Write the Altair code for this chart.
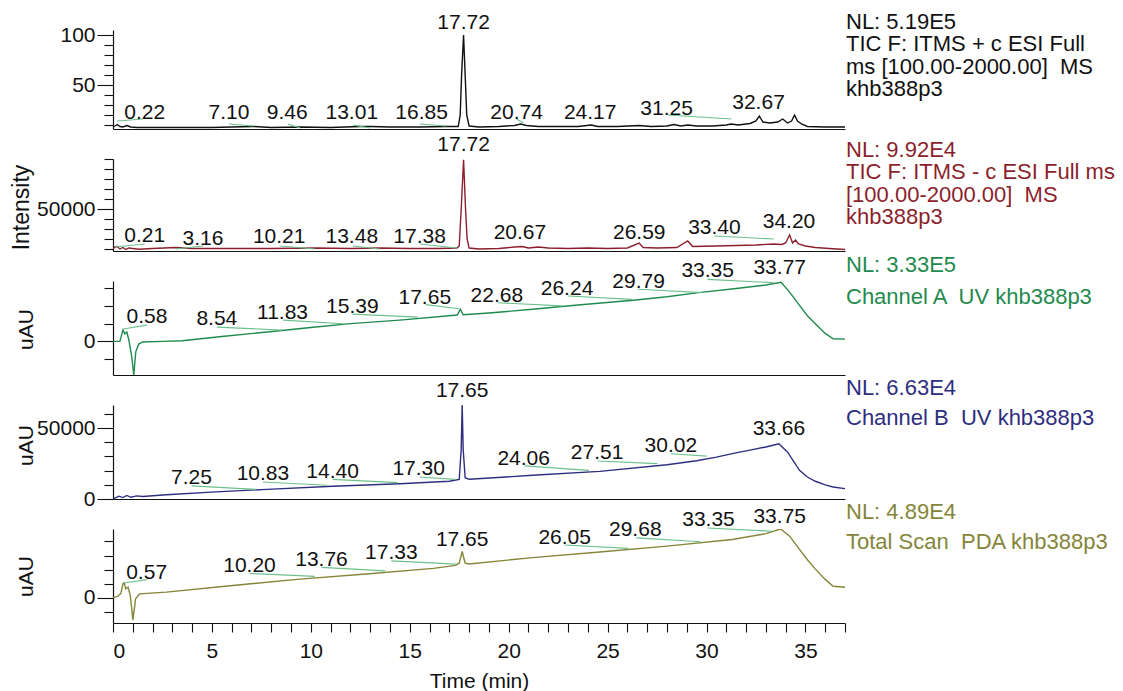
import altair as alt
import pandas as pd

FONT = "Liberation Sans"
T_DOMAIN = [0, 37]
W = 732

# ---------------- Panel 1 : TIC + (relative abundance) ----------------
p1_t = [0.0, 0.1, 0.22, 0.35, 0.5, 0.7, 0.9, 1.2, 2.0, 3.5, 5.0, 6.0, 7.1, 8.0, 9.46, 11.0, 12.5, 13.01, 14.0, 15.5,
        16.85, 17.45, 17.55, 17.62, 17.72, 17.8, 17.88, 18.0, 18.5, 19.5, 20.3, 20.6, 20.9, 21.5, 22.5, 23.5, 24.17, 24.5,
        25.5, 26.6, 27.2, 28.0, 28.35, 28.7, 29.05, 29.5, 30.3, 31.0, 31.25, 31.6, 32.2, 32.5, 32.67, 32.85, 33.2, 33.6,
        33.85, 34.1, 34.3, 34.45, 34.6, 34.8, 35.1, 36.0, 37.0]
p1_v = [8, 9, 10.5, 8.5, 8, 9.5, 8, 7.5, 7.5, 7.5, 7.5, 8, 8.5, 7.5, 8, 7.5, 8.5, 8.5, 8, 8,
        8.5, 8.5, 20, 60, 100, 60, 20, 9, 8, 8.5, 9.5, 11, 9.5, 8.5, 8.5, 8.5, 10, 8.5,
        8.5, 9.5, 8.5, 9, 10.5, 9, 10, 9, 9, 10, 11, 10, 11.5, 14, 19, 13, 12, 13,
        16, 12, 14, 20, 14, 11, 8.5, 8, 8]
p1_lab_text = ["0.22", "7.10", "9.46", "13.01", "16.85", "17.72", "20.74", "24.17", "31.25", "32.67"]
p1_lab_t = [1.6, 5.86, 8.81, 12.07, 15.6, 17.72, 20.4, 24.12, 27.98, 32.63]
p1_lab_v = [16, 16, 16, 16, 16, 106, 16, 16, 20, 26]
p1_ld_t = [1.52, 5.86, 8.84, 12.12, 15.5, 20.4, 28.03]
p1_ld_v = [16, 11, 11, 10, 11, 16, 20]
p1_ld_t2 = [0.2, 7.10, 9.46, 13.01, 16.85, 20.74, 31.25]
p1_ld_v2 = [14, 9, 7, 7, 9, 12, 16]
p1_info = ["NL: 5.19E5", "TIC F: ITMS + c ESI Full", "ms [100.00-2000.00] \u00a0MS", "khb388p3"]

# ---------------- Panel 2 : TIC - ----------------
p2_t = [0.0, 0.1, 0.21, 0.35, 0.5, 0.65, 0.8, 1.0, 1.3, 2.0, 3.16, 4.0, 6.0, 8.0, 10.21, 12.0, 13.48, 15.0, 16.5, 17.38,
        17.5, 17.6, 17.72, 17.82, 17.9, 18.0, 18.5, 19.5, 20.3, 20.67, 21.0, 21.5, 22.0, 23.0, 24.0, 25.0, 26.0, 26.59,
        26.8, 27.5, 28.5, 29.05, 29.3, 30.5, 31.5, 32.5, 33.4, 33.8, 34.0, 34.2, 34.35, 34.5, 34.65, 35.0, 35.5, 36.2, 37.0]
p2_v = [10000, 12000, 12500, 10000, 11500, 9500, 11000, 10500, 9800, 10500, 11500, 10500, 10500, 10500, 11000, 10500,
        11000, 10500, 10500, 11000, 13000, 50000, 99200, 50000, 20000, 11000, 10000, 10500, 12000, 12500, 11000, 12000,
        11000, 10500, 11000, 10500, 11000, 16000, 11500, 11000, 11500, 18000, 12500, 13000, 13500, 14000, 15000, 14500,
        16000, 24000, 16000, 19000, 15000, 13000, 11500, 10500, 9500]
p2_lab_text = ["0.21", "3.16", "10.21", "13.48", "17.38", "17.72", "20.67", "26.59", "33.40", "34.20"]
p2_lab_t = [1.6, 4.55, 8.4, 12.07, 15.5, 17.72, 20.57, 26.6, 30.4, 34.17]
p2_lab_v = [17000, 14000, 16300, 16300, 16300, 108000, 20000, 20000, 25300, 31000]
p2_ld_t = [1.6, 4.55, 8.45, 12.12, 15.5, 30.4]
p2_ld_v = [15000, 13000, 13000, 13000, 15000, 23000]
p2_ld_t2 = [0.1, 3.16, 10.21, 13.48, 17.38, 33.40]
p2_ld_v2 = [12000, 10000, 10000, 10000, 11000, 20000]
p2_info = ["NL: 9.92E4", "TIC F: ITMS - c ESI Full ms", "[100.00-2000.00] \u00a0MS", "khb388p3"]

# ---------------- Panel 3 : Channel A UV ----------------
p3_t = [0.0, 0.35, 0.5, 0.6, 0.7, 0.8, 0.95, 1.05, 1.15, 1.3, 1.5, 2.5, 3.5, 5.5, 7.8, 10.0, 12.0, 14.5, 17.4, 17.56,
        17.7, 19.0, 21.2, 23.5, 26.3, 28.0, 29.6, 31.5, 33.0, 33.77, 34.2, 34.7, 35.1, 35.5, 36.0, 36.4, 37.0]
p3_v = [0, 0, 64000, 43000, 53000, 8000, -88000, -190000, -59000, -15000, -3000, 0, 4000, 28000, 53000, 78000, 100000,
        120000, 149000, 181000, 150000, 160000, 181000, 205000, 232000, 252000, 275000, 298000, 318000, 333000, 278000,
        203000, 145000, 100000, 45000, 15000, 13000]
p3_lab_text = ["0.58", "8.54", "11.83", "15.39", "17.65", "22.68", "26.24", "29.79", "33.35", "33.77"]
p3_lab_t = [1.72, 5.25, 8.57, 12.1, 15.76, 19.4, 22.95, 26.57, 30.06, 33.7]
p3_lab_v = [103700, 94000, 128000, 160000, 212500, 222000, 263000, 303000, 363000, 382000]
p3_ld_t = [1.72, 5.25, 8.6, 12.1, 15.8, 19.45, 23.0, 26.54, 30.05]
p3_ld_v = [92000, 81000, 120000, 154000, 207000, 218000, 256000, 294000, 350000]
p3_ld_t2 = [0.5, 8.54, 11.83, 15.39, 17.5, 22.68, 26.24, 29.79, 33.35]
p3_ld_v2 = [70000, 64000, 98000, 137000, 184000, 200000, 237000, 275000, 331000]
p3_info = ["NL: 3.33E5", "Channel A \u00a0UV khb388p3"]

# ---------------- Panel 4 : Channel B UV ----------------
p4_t = [0.0, 0.3, 0.5, 0.7, 0.9, 1.2, 1.5, 2.7, 5.2, 7.8, 11.1, 14.5, 17.0, 17.5, 17.6, 17.65, 17.7, 17.8, 18.0, 21.2,
        24.6, 28.0, 29.5, 30.5, 31.3, 32.2, 33.0, 33.66, 34.1, 34.7, 35.1, 35.5, 36.0, 36.4, 37.0]
p4_v = [0, 2000, 1000, 2500, 1200, 2200, 1800, 3000, 5000, 6800, 9000, 10800, 12500, 13800, 35000, 66300, 35000, 15000,
        13900, 16700, 19500, 24200, 27000, 29500, 32000, 34500, 36700, 39000, 33000, 20200, 15500, 12500, 10000, 8500, 7300]
p4_lab_text = ["7.25", "10.83", "14.40", "17.30", "17.65", "24.06", "27.51", "30.02", "33.66"]
p4_lab_t = [3.97, 7.58, 11.1, 15.45, 17.65, 20.76, 24.47, 28.2, 33.66]
p4_lab_v = [10800, 13200, 14800, 16700, 71900, 23800, 28400, 33100, 44900]
p4_ld_t = [3.97, 7.58, 11.1, 15.5, 20.8, 24.5, 28.2]
p4_ld_v = [9200, 12000, 13900, 15500, 23300, 26800, 31900]
p4_ld_t2 = [7.25, 10.83, 14.40, 17.30, 24.06, 27.51, 30.02]
p4_ld_v2 = [6800, 9700, 11500, 13900, 20200, 24900, 30300]
p4_info = ["NL: 6.63E4", "Channel B \u00a0UV khb388p3"]

# ---------------- Panel 5 : Total Scan PDA ----------------
p5_t = [0.0, 0.25, 0.4, 0.5, 0.57, 0.64, 0.76, 0.87, 0.95, 1.0, 1.08, 1.14, 1.35, 2.7, 6.06, 9.44, 12.8, 16.2, 17.3, 17.5,
        17.6, 17.65, 17.7, 17.8, 18.0, 21.2, 24.6, 28.0, 31.3, 33.0, 33.75, 34.2, 34.7, 35.1, 35.5, 36.0, 36.4, 37.0]
p5_v = [0, 1000, 3000, 9700, 10500, 6200, 7400, 1800, -8000, -16000, -8000, -800, 2700, 3900, 8600, 13200, 16800, 20800,
        23000, 24500, 30000, 33000, 30000, 24500, 24000, 28500, 32500, 36700, 41400, 45600, 48900, 43800, 34400, 27000,
        20300, 13000, 8100, 7400]
p5_lab_text = ["0.57", "10.20", "13.76", "17.33", "17.65", "26.05", "29.68", "33.35", "33.75"]
p5_lab_t = [1.7, 6.9, 10.54, 14.07, 17.65, 22.83, 26.4, 30.1, 33.7]
p5_lab_v = [13200, 18000, 22200, 27800, 36700, 37900, 43800, 50800, 53200]
p5_ld_t = [1.7, 6.9, 10.54, 14.07, 22.83, 26.45, 30.05]
p5_ld_v = [12800, 17200, 21500, 26200, 37500, 42600, 49600]
p5_ld_t2 = [0.55, 10.20, 13.76, 17.33, 26.05, 29.68, 33.35]
p5_ld_v2 = [10400, 15100, 19100, 23800, 35100, 39800, 47300]
p5_info = ["NL: 4.89E4", "Total Scan \u00a0PDA khb388p3"]

LEADER = "#6cc08c"


def panel(tr_t, tr_v, lab_text, lab_t, lab_v, ld_t, ld_v, ld_t2, ld_v2, info, color, info_color,
          height, ydomain, yticks, ylabels, ytitle, title_x, title_y, info_y, info_lh, title_size=21, bottom=False):
    assert len(tr_t) == len(tr_v)
    test = " || ".join(f"datum.value == {x}" for x in ylabels)
    yaxis_kw = dict(values=yticks, format="d", labelExpr=f"({test}) ? datum.label : ''",
                    tickSize={"condition": {"test": test, "value": 16}, "value": 9})
    if ytitle:
        yaxis_kw.update(title=ytitle, titleX=title_x, titleY=title_y, titleBaseline="alphabetic",
                        titleFontSize=title_size)
    else:
        yaxis_kw.update(title=None)
    yaxis = alt.Axis(**yaxis_kw)
    if bottom:
        xaxis = alt.Axis(values=list(range(0, 38)), format="d",
                         labelExpr="datum.value % 5 == 0 ? datum.label : ''",
                         tickSize=9, labelPadding=8, title="Time (min)", titlePadding=9)
    else:
        xaxis = alt.Axis(labels=False, ticks=False, title=None)
    x = alt.X("t:Q", scale=alt.Scale(domain=T_DOMAIN, nice=False, zero=False), axis=xaxis)
    y = alt.Y("v:Q", scale=alt.Scale(domain=ydomain, nice=False, zero=False), axis=yaxis)

    trace = alt.Chart(pd.DataFrame({"t": tr_t, "v": tr_v})).mark_line(
        color=color, strokeWidth=1.4, clip=True).encode(x=x, y=y)
    leads = alt.Chart(pd.DataFrame({"t": ld_t, "v": ld_v, "t2": ld_t2, "v2": ld_v2})).mark_rule(
        color=LEADER, strokeWidth=1.2).encode(x=x, y=y, x2="t2:Q", y2="v2:Q")
    labels = alt.Chart(pd.DataFrame({"t": lab_t, "v": lab_v, "s": lab_text})).mark_text(
        font=FONT, fontSize=21, color="#111111", align="center", baseline="alphabetic").encode(
        x=x, y=y, text="s:N")
    info_layer = alt.Chart(pd.DataFrame({"k": [0]})).mark_text(
        font=FONT, fontSize=22, color=info_color, align="left", baseline="alphabetic",
        lineHeight=info_lh).encode(
        x=alt.value(W + 1), y=alt.value(info_y), text=alt.value(info))
    return alt.layer(trace, leads, labels, info_layer).properties(width=W, height=height)


c1 = panel(p1_t, p1_v, p1_lab_text, p1_lab_t, p1_lab_v, p1_ld_t, p1_ld_v, p1_ld_t2, p1_ld_v2, p1_info,
           "#111111", "#111111", 99, [6, 105], list(range(10, 101, 10)), [50, 100], None, 0, 0, -1.3, 22.6)
c2 = panel(p2_t, p2_v, p2_lab_text, p2_lab_t, p2_lab_v, p2_ld_t, p2_ld_v, p2_ld_t2, p2_ld_v2, p2_info,
           "#8c1f2c", "#8c1f2c", 92, [8000, 100000], list(range(10000, 100001, 10000)), [50000], "Intensity",
           -85, 48, -2.5, 22.6, title_size=23)
c3 = panel(p3_t, p3_v, p3_lab_text, p3_lab_t, p3_lab_v, p3_ld_t, p3_ld_v, p3_ld_t2, p3_ld_v2, p3_info,
           "#1f8a4d", "#1f8a4d", 94, [-189400, 340500], [-100000, 0, 100000, 200000, 300000], [0], "uAU",
           -81, 48, -9, 31.7)
c4 = panel(p4_t, p4_v, p4_lab_text, p4_lab_t, p4_lab_v, p4_ld_t, p4_ld_v, p4_ld_t2, p4_ld_v2, p4_info,
           "#2e2e80", "#2e2e80", 94, [0, 66300], list(range(0, 60001, 10000)), [0, 50000], "uAU",
           -81, 40, -9.7, 30)
c5 = panel(p5_t, p5_v, p5_lab_text, p5_lab_t, p5_lab_v, p5_ld_t, p5_ld_v, p5_ld_t2, p5_ld_v2, p5_info,
           "#85853a", "#85853a", 94, [-18100, 48900], list(range(-10000, 40001, 10000)), [0], "uAU",
           -81, 47, -10.3, 30, bottom=True)

chart = alt.vconcat(c1, c2, c3, c4, c5, spacing=30, bounds="flush").properties(
    padding={"left": 2, "top": 2, "right": 0, "bottom": 0}
).configure_view(stroke=None).configure_axis(
    labelFont=FONT, titleFont=FONT, labelFontSize=21, titleFontSize=21, titleFontWeight="normal",
    labelColor="#111111", titleColor="#111111", domainColor="#111111", tickColor="#111111",
    domainWidth=1.2, tickWidth=1.1, grid=False
).configure_axisY(labelPadding=2)

chart.save("out.html", embed_options={"renderer": "svg", "actions": False})
